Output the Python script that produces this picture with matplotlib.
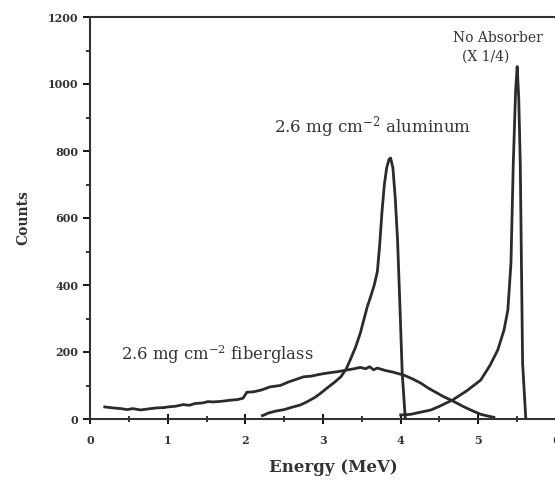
import matplotlib
matplotlib.use("Agg")
import matplotlib.pyplot as plt
from matplotlib.ticker import MultipleLocator

plt.rcParams["font.family"] = ["DejaVu Serif"]
plt.rcParams["mathtext.fontset"] = "dejavuserif"

# --- spectra (energy in MeV, counts) ---
fiberglass_e = [0.19, 0.3, 0.4, 0.48, 0.55, 0.65, 0.75, 0.85, 0.95, 1.0, 1.1, 1.2,
                1.28, 1.35, 1.45, 1.52, 1.59, 1.7, 1.8, 1.9, 1.97, 2.02, 2.1, 2.2,
                2.32, 2.45, 2.55, 2.65, 2.75, 2.85, 2.95, 3.05, 3.18, 3.3, 3.4,
                3.48, 3.55, 3.6, 3.65, 3.7, 3.8, 3.9, 4.04, 4.15, 4.26, 4.35, 4.45,
                4.55, 4.67, 4.8, 4.9, 5.03, 5.12, 5.2]
fiberglass_c = [36, 33, 31, 28, 31, 27, 30, 33, 34, 36, 38, 43,
                41, 46, 48, 52, 51, 53, 56, 58, 62, 80, 81, 86,
                96, 100, 110, 118, 126, 128, 133, 137, 141, 146, 150,
                154, 150, 156, 147, 152, 145, 140, 131, 120, 107, 93, 80,
                67, 54, 38, 27, 14, 9, 5]

aluminum_e = [2.22, 2.3, 2.4, 2.5, 2.6, 2.71, 2.8, 2.9, 2.97, 3.05, 3.15, 3.23,
              3.3, 3.35, 3.42, 3.48, 3.53, 3.57, 3.62, 3.66, 3.7, 3.73, 3.76,
              3.79, 3.82, 3.85, 3.87, 3.9, 3.93, 3.96, 3.99, 4.02, 4.06]
aluminum_c = [10, 18, 24, 28, 35, 42, 52, 65, 77, 92, 110, 126,
              150, 176, 215, 256, 300, 335, 370, 400, 440, 520, 620,
              700, 750, 775, 779, 750, 660, 534, 340, 137, 0]

noabs_e = [4.0, 4.13, 4.25, 4.39, 4.5, 4.67, 4.85, 5.03, 5.15, 5.25, 5.33, 5.38,
           5.42, 5.45, 5.48, 5.5, 5.52, 5.54, 5.57, 5.61]
noabs_c = [12, 14, 20, 27, 38, 57, 84, 116, 160, 206, 265, 325,
           465, 763, 980, 1052, 960, 763, 166, 5]

x_ticks = [0, 1, 2, 3, 4, 5, 6]
y_ticks = [0, 200, 400, 600, 800, 1000, 1200]

ink = "#2b2b2b"

fig = plt.figure(figsize=(5.55, 4.8), dpi=100)
ax = fig.add_axes([90 / 555, 61 / 480, 466 / 555, 402 / 480])

ax.plot(fiberglass_e, fiberglass_c, color=ink, lw=2.0)
ax.plot(aluminum_e, aluminum_c, color=ink, lw=2.0)
ax.plot(noabs_e, noabs_c, color=ink, lw=2.0)

ax.set_xlim(0, 6)
ax.set_ylim(0, 1200)
ax.set_xticks(x_ticks)
ax.set_yticks(y_ticks)
ax.xaxis.set_minor_locator(MultipleLocator(0.5))
ax.yaxis.set_minor_locator(MultipleLocator(100))
ax.tick_params(axis="x", which="major", direction="inout", length=7, width=1.3, pad=8)
ax.tick_params(axis="x", which="minor", direction="inout", length=4, width=1.1)
ax.tick_params(axis="y", which="major", direction="out", length=5, width=1.3)
ax.tick_params(axis="y", which="minor", direction="out", length=3, width=1.1)
for lab in ax.get_xticklabels() + ax.get_yticklabels():
    lab.set_fontsize(8)
    lab.set_fontweight("bold")
    lab.set_color("#333333")

for side in ("left", "bottom", "top"):
    ax.spines[side].set_linewidth(1.5)
    ax.spines[side].set_color("#333333")
ax.spines["right"].set_visible(False)

ax.set_xlabel("Energy (MeV)", fontsize=12, fontweight="bold", color="#333333")
ax.xaxis.set_label_coords((333 - 90) / 466, (419 - 468) / 402)
ax.xaxis.label.set_va("center")
ax.set_ylabel("Counts", fontsize=10, fontweight="bold", color="#333333")
ax.yaxis.set_label_coords((23 - 90) / 466, 0.5)
ax.yaxis.label.set_va("center")

ax.text(3.64, 872, r"2.6 mg cm$^{-2}$ aluminum", fontsize=12, ha="center", va="center",
        color="#333333")
ax.text(1.64, 191, r"2.6 mg cm$^{-2}$ fiberglass", fontsize=11.8, ha="center", va="center",
        color="#333333")
ax.text(5.25, 1137, "No Absorber", fontsize=10, ha="center", va="center", color="#333333")
ax.text(5.10, 1081, "(X 1/4)", fontsize=10, ha="center", va="center", color="#333333")

fig.savefig("out.png", dpi=100)
